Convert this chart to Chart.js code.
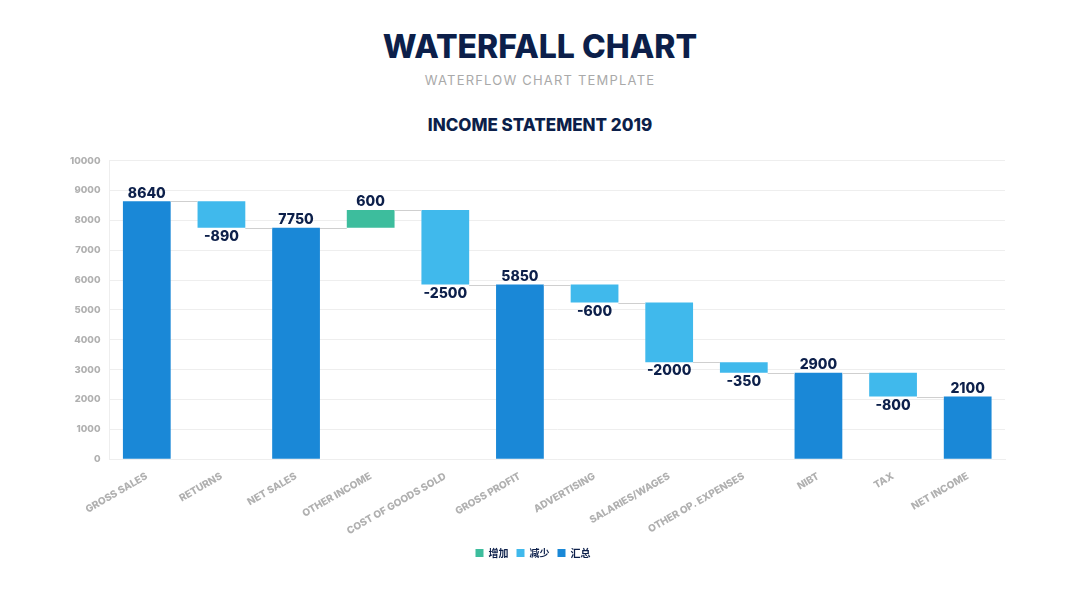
<!DOCTYPE html>
<html>
<head>
<meta charset="utf-8">
<script src="https://cdn.jsdelivr.net/npm/chart.js"></script>
<style>
  html, body { margin: 0; padding: 0; background: #fff; }
  body { width: 1080px; height: 608px; position: relative; overflow: hidden; font-family: "Inter", "Noto Sans", sans-serif; }
  .title { position: absolute; top: 27px; width: 100%; text-align: center; font-size: 32px; font-weight: 800; color: #0c1f4a; }
  .subtitle { position: absolute; top: 72px; width: 100%; text-align: center; font-size: 13px; color: #a9a9a9; letter-spacing: 1.2px; }
  .heading { position: absolute; top: 115px; width: 100%; text-align: center; font-size: 17px; font-weight: 800; color: #0c1f4a; }
  .wrap { position: absolute; left: 60px; top: 146px; width: 960px; height: 422px; }
</style>
</head>
<body>
<div class="title">WATERFALL CHART</div>
<div class="subtitle">WATERFLOW CHART TEMPLATE</div>
<div class="heading">INCOME STATEMENT 2019</div>
<div class="wrap"><canvas id="chart"></canvas></div>

<script>
const categories = ["GROSS SALES", "RETURNS", "NET SALES", "OTHER INCOME", "COST OF GOODS SOLD", "GROSS PROFIT",
                    "ADVERTISING", "SALARIES/WAGES", "OTHER OP. EXPENSES", "NIBT", "TAX", "NET INCOME"];
const amounts = [8640, -890, 7750, 600, -2500, 5850, -600, -2000, -350, 2900, -800, 2100];
const kinds = ["total", "decrease", "total", "increase", "decrease", "total",
               "decrease", "decrease", "decrease", "total", "decrease", "total"];
const legendNames = { increase: "增加", decrease: "减少", total: "汇总" };
const colors = { increase: "#3dbd9d", decrease: "#40b9ec", total: "#1a88d7" };
const yTicks = [0, 1000, 2000, 3000, 4000, 5000, 6000, 7000, 8000, 9000, 10000];

// floating ranges + running level after each bar
const ranges = [];
const levels = [];
let running = 0;
amounts.forEach((v, i) => {
    if (kinds[i] === "total") {
        ranges.push([0, v]);
        running = v;
    } else {
        ranges.push([running, running + v]);
        running += v;
    }
    levels.push(running);
});

function seriesFor(kind) {
    return ranges.map((r, i) => kinds[i] === kind ? r : null);
}

const navy = "#0c1f4a";

const waterfallExtras = {
    id: "waterfallExtras",
    afterDatasetsDraw(chart) {
        const ctx = chart.ctx;
        const y = chart.scales.y;
        const bars = categories.map((_, i) => {
            for (let d = 0; d < chart.data.datasets.length; d++) {
                const el = chart.getDatasetMeta(d).data[i];
                if (chart.data.datasets[d].data[i] !== null && el) return el;
            }
            return null;
        });
        // connectors
        ctx.save();
        ctx.strokeStyle = "#cfcfcf";
        ctx.lineWidth = 1;
        for (let i = 0; i < bars.length - 1; i++) {
            const a = bars[i], b = bars[i + 1];
            if (!a || !b) continue;
            const py = Math.round(y.getPixelForValue(levels[i])) + 0.5;
            ctx.beginPath();
            ctx.moveTo(a.x + a.width / 2, py);
            ctx.lineTo(b.x - b.width / 2, py);
            ctx.stroke();
        }
        // value labels
        ctx.fillStyle = navy;
        ctx.font = "800 14px Inter, 'Noto Sans', sans-serif";
        ctx.textAlign = "center";
        bars.forEach((el, i) => {
            if (!el) return;
            const top = Math.min(el.y, el.base);
            const bottom = Math.max(el.y, el.base);
            if (kinds[i] === "decrease") {
                ctx.textBaseline = "top";
                ctx.fillText(String(amounts[i]), el.x, bottom + 2);
            } else {
                ctx.textBaseline = "bottom";
                ctx.fillText(String(amounts[i]), el.x, top - 1);
            }
        });
        ctx.restore();
    }
};

new Chart(document.getElementById("chart"), {
    type: "bar",
    data: {
        labels: categories,
        datasets: ["increase", "decrease", "total"].map(k => ({
            label: legendNames[k],
            data: seriesFor(k),
            backgroundColor: colors[k],
            borderWidth: 0,
            grouped: false,
            barPercentage: 0.8,
            categoryPercentage: 0.8
        }))
    },
    options: {
        responsive: true,
        maintainAspectRatio: false,
        animation: false,
        layout: { padding: { top: 6, right: 15, left: 1, bottom: 0 } },
        plugins: {
            legend: {
                position: "bottom",
                labels: {
                    boxWidth: 8,
                    boxHeight: 8,
                    padding: 8,
                    color: navy,
                    font: { size: 10, weight: "bold", family: "'Noto Sans CJK SC', sans-serif" }
                }
            },
            tooltip: { enabled: false }
        },
        scales: {
            x: {
                grid: { display: false },
                border: { color: "#eeeeee" },
                ticks: {
                    minRotation: 30,
                    maxRotation: 30,
                    color: "#b0b0b0",
                    font: { size: 10, weight: "800", family: "Inter, sans-serif" }
                }
            },
            y: {
                min: 0,
                max: 10000,
                afterBuildTicks(axis) { axis.ticks = yTicks.map(v => ({ value: v })); },
                grid: { color: "#eeeeee", drawTicks: false },
                border: { color: "#eeeeee" },
                ticks: {
                    padding: 9,
                    color: "#b0b0b0",
                    callback: v => String(v),
                    font: { size: 9.5, weight: "800", family: "Inter, sans-serif" }
                }
            }
        }
    },
    plugins: [waterfallExtras]
});
</script>
</body>
</html>
